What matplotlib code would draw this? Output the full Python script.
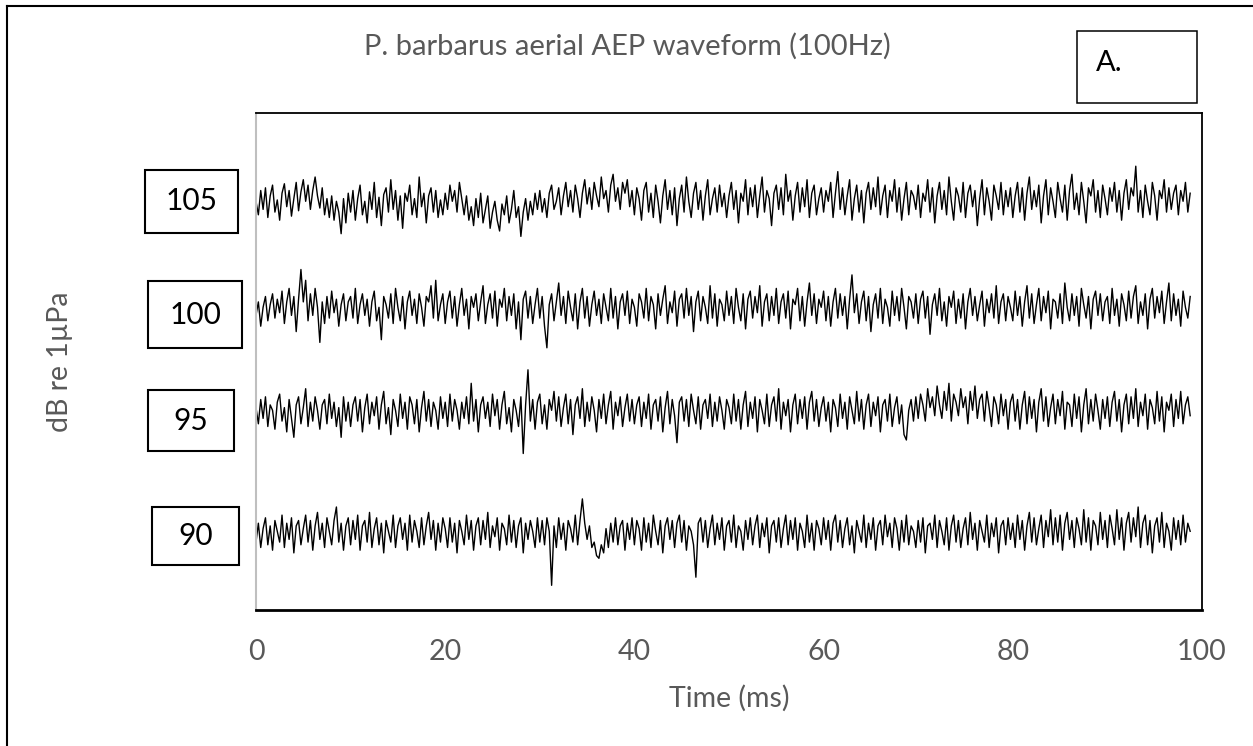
import numpy as np
import matplotlib
matplotlib.use("Agg")
import matplotlib.pyplot as plt
from matplotlib.patches import Rectangle
from matplotlib.lines import Line2D

# AEP traces, one sample every 0.25 ms (amplitude in arbitrary units)
step_ms = 0.25
levels = ["105", "100", "95", "90"]

t105 = [
    2, -8, 10, -4, 12, -10, 6, 14, -6, 3, -12, 8, 15, -2, 10, -9, 4, 16, -5, 9, 18, 2, 14, -4, 10, 20, 6, -3, 12, -8, 4, -10, 6, -12, 2, -6, -22, 4, -14, 8,
    -6, 10, -12, 4, 14, -8, 2, -14, 9, -4, 16, -10, 5, -16, 7, 12, -6, 18, -4, 10, -12, 6, -18, 8, 2, 14, -8, 4, -10, 20, -2, 8, -14, 6, 12, -6, 10, -10, 3, -8,
    8, -4, 14, 2, 10, -6, 16, 4, -8, 6, -12, -2, -16, 4, -10, 8, -14, -4, 6, -18, -6, 2, -12, -20, 0, -8, 6, -14, -4, 10, -10, -2, -24, -6, 4, -12, 2, -8, 8, -4,
    10, -6, 4, -10, 8, 14, -4, 2, 12, -8, 6, 16, -2, 10, -6, 14, 4, -10, 8, 18, 0, 12, -4, 16, 6, -2, 20, 4, 10, -6, 14, 22, 2, 12, -4, 16, 8, 18, -2, 10,
    -8, 12, 4, -12, 10, 16, -6, 8, -10, 14, 2, -14, 6, 18, -4, 10, -8, 12, -16, 4, 14, -6, 20, 2, -10, 8, 16, -4, 10, -12, 6, 18, -8, 4, 12, -6, 14, -2, 8, -10,
    6, 16, -4, 10, -14, 8, 2, 18, -8, 12, -2, 14, -10, 6, 20, -6, 10, 4, -16, 8, 14, -4, 12, -8, 22, 2, 10, -12, 6, 16, -6, 12, -2, 18, -10, 8, 14, -8, 4, 12,
    -6, 10, 2, 16, -10, 8, 24, -4, 12, -8, 6, 18, -12, 4, 14, -6, 10, -14, 8, 16, -4, 12, -2, 20, -8, 6, 14, -10, 10, 2, 18, -6, 12, -12, 4, 16, -8, 10, 6, -4,
    14, -10, 8, 2, 18, -6, 12, -14, 6, 16, -4, 10, -8, 20, 2, -12, 12, 6, -6, 16, -10, 8, 14, -2, 10, -16, 4, 18, -8, 12, 2, -12, 14, 6, -4, 16, -8, 10, -2, 12,
    -10, 6, 16, -6, 12, -12, 8, 20, -4, 10, -2, 14, -14, 6, 18, -8, 12, 2, -10, 16, 4, -6, 14, -12, 10, 22, -4, 8, -8, 16, 2, -14, 12, 6, 18, -6, 10, -10, 14, 4,
    -8, 12, 2, 16, -6, 10, -12, 8, 18, -4, 12, 6, 28, -6, 10, -10, 14, 2, -8, 16, 6, -12, 10, 4, 18, -6, 12, -4, 8, 14, -8, 10, 2, 16, -6, 8,
]

t100 = [
    -4, 6, -12, 2, 10, -8, 4, 12, -6, 8, -2, 14, -10, 6, 16, -4, 10, -16, 8, 30, 6, 22, -8, 12, -4, 16, 2, -24, 6, -10, 10, -6, 14, -2, 8, -12, 4, 12, -8, 6,
    10, -6, 16, -10, 4, 12, -4, 8, -12, 6, 14, -8, 2, -22, 10, 4, -6, 12, -10, 16, 2, -8, 10, -14, 6, 14, -4, 8, -10, 12, 2, -12, 10, 6, 18, -6, 22, -8, 4, 12,
    -10, 6, 14, -6, 10, -12, 4, 16, -4, 8, -14, 10, 2, 12, -8, 6, 18, -10, 4, 12, -6, 14, -12, 8, 2, 16, -8, 10, -4, 12, -14, 6, -22, 8, 14, -6, 10, -10, 4, 16,
    -6, 10, -12, -28, 4, 12, -8, 6, 20, -4, 10, -10, 14, 2, -8, 12, -14, 6, 16, -6, 10, -12, 4, 14, -4, 8, -10, 12, 2, -8, 16, -6, 10, -14, 6, 12, -4, 14, -10, 8,
    2, -12, 12, 6, -6, 16, -8, 10, 4, -14, 12, -4, 8, 18, -10, 6, -2, 14, -12, 8, 12, -6, 16, -4, 10, -16, 6, 14, -8, 10, 2, -10, 18, -6, 12, -12, 8, 4, -8, 14,
    -4, 10, -10, 16, 2, -8, 12, -14, 8, 14, -6, 10, -2, 18, -12, 6, 12, -8, 10, -4, 16, -10, 6, 12, -6, 14, -14, 8, 4, 16, -8, 10, -12, 6, 20, -4, 12, -10, 8, 2,
    14, -8, 10, -12, 6, 16, -6, 12, -4, 10, -14, 8, 26, -2, 12, -10, 6, 14, -8, 10, -16, 4, 12, -6, 16, -10, 8, 2, -12, 14, -4, 10, -8, 16, 2, -14, 10, 6, -6, 12,
    -10, 8, 14, -6, 10, -18, 4, 12, -4, 16, -8, 6, -12, 10, 2, 14, -10, 8, -6, 12, -14, 6, 16, -4, 10, -8, 4, 14, -12, 8, -2, 12, -6, 18, -10, 6, 12, -8, 10, 2,
    -8, 14, -4, 10, -12, 6, 18, -6, 12, -10, 4, 16, -8, 10, -2, 14, -14, 8, 6, -6, 12, -10, 20, 2, -8, 12, -4, 10, -12, 16, 4, -6, 10, -14, 8, 14, -4, 12, -8, 6,
    10, -10, 16, -4, 8, -12, 12, 4, -8, 14, -6, 10, 18, -10, 6, -4, 12, -14, 8, 16, -6, 10, -2, 14, -10, 6, 20, -8, 12, -4, 8, -12, 14, 2, -6, 10,
]

t95 = [
    4, -8, 10, -4, 12, -10, 6, 2, -12, 8, 14, -6, 4, -14, 10, -4, -18, 6, 12, -8, 4, 18, -10, 8, -6, 12, 2, -12, 6, 10, -8, 14, -4, 8, -10, 4, -18, 12, -6, 8,
    -10, 6, 12, -6, 10, -14, 4, 14, -8, 8, -2, 12, -12, 6, 16, -8, 4, -16, 10, 2, -10, 14, -4, 8, -12, 12, 6, -8, 10, -14, 4, 16, -6, 10, -10, 8, 2, -12, 12, -4,
    8, -10, 14, -6, 10, 2, -12, 8, -4, 12, -8, 22, -6, 10, -14, 6, 12, -4, 8, -10, 14, -2, 10, -12, 6, 16, -8, 4, -14, 10, 2, -10, 12, -30, 6, 32, -6, 10, -12, 8,
    14, -8, 6, -12, 10, 2, 16, -6, 12, -10, 4, 14, -8, 10, -16, 6, 12, -4, 18, -10, 8, -6, 12, 2, -14, 10, -4, 14, -8, 6, 16, -12, 8, -2, 12, -10, 4, 14, -6, 10,
    -8, 6, 12, -10, 8, -4, 14, -12, 6, 10, -6, 12, -14, 4, 16, -8, 10, -2, -22, 8, 12, -6, 10, -10, 14, 2, -8, 12, -12, 6, 10, -4, 14, -10, 8, -6, 12, 2, -12, 10,
    4, -8, 14, -6, 10, -12, 6, 16, -10, 8, -4, 12, -14, 10, 2, -8, 14, -10, 6, 12, -6, 18, -12, 8, -2, 10, -14, 6, 14, -8, 10, -4, 12, -12, 8, 16, -6, 10, -10, 4,
    12, -6, 8, -14, 10, 4, -10, 14, -4, 8, -12, 12, 2, -8, 16, -6, 10, -12, 6, 14, -10, 8, -2, 12, -14, 6, 10, -6, 14, -10, 4, 12, -8, 6, -16, -20, 2, 10, -6, 12,
    -4, 14, 6, -6, 18, 4, 12, -2, 20, 6, -4, 16, 2, 22, -6, 14, 8, -2, 18, 4, 12, -8, 16, 2, 20, -4, 10, 14, -6, 16, 4, -10, 12, 6, -8, 14, -2, 10, -12, 8,
    14, -6, 10, -12, 6, 16, -8, 12, -4, 10, -14, 8, 18, -6, 12, -10, 4, 14, -8, 10, -2, 16, -12, 8, 6, -10, 14, -4, 12, -14, 6, 18, -8, 10, -6, 14, 2, -12, 10, -4,
    12, -10, 8, 16, -6, 10, -14, 6, 14, -8, 12, -4, 18, -10, 8, -2, 14, -12, 10, 4, -8, 16, -6, 12, -14, 8, 2, 14, -10, 10, -4, 16, -8, 6, 12, -2,
]

t90 = [
    -6, 8, -10, 4, 12, -8, 6, -12, 10, 2, -6, 14, -10, 8, -4, 12, -14, 6, 10, -8, 4, 14, -6, 10, -12, 6, 16, -4, 8, -10, 12, 2, -8, 10, 20, -6, 8, -12, 6, 12,
    -8, 10, -4, 14, -12, 6, 10, -6, 16, -10, 4, 12, -8, 8, -14, 10, 2, -6, 14, -10, 6, 12, -4, 8, -12, 14, -6, 10, 2, -10, 12, -8, 6, 16, -4, 10, -12, 8, -6, 12,
    4, -10, 12, -6, 8, -14, 10, 2, -8, 14, -4, 10, -12, 6, 12, -8, 10, -4, 16, -10, 6, -2, 12, -12, 8, 4, -8, 14, -6, 10, -10, 6, 12, -14, 8, -4, 10, 2, -10, 12,
    -6, 10, -8, 12, 2, -38, 6, -10, 12, -4, 8, -12, 10, 4, -6, 14, -8, 10, 26, 8, -4, 6, -10, -6, -16, -18, -8, -14, 4, -10, 8, -6, 12, -8, 6, 10, -12, 8, -4, 12,
    -8, 10, 4, -12, 12, -6, 8, -10, 14, 2, -8, 10, -14, 6, 12, -4, 10, -10, 8, 14, -6, 10, -12, 6, 2, -8, -32, 8, 12, -6, 10, -10, 4, 14, -8, 8, -4, 12, -12, 6,
    10, -6, 14, -10, 6, 2, -12, 10, -4, 12, -8, 6, 14, -10, 8, -2, 12, -14, 6, 10, -6, 12, -10, 4, 14, -8, 10, -4, 12, -12, 8, 2, -10, 14, -6, 8, -12, 10, 4, -8,
    12, -4, 10, -12, 8, 14, -6, 10, -10, 4, 12, -8, 6, -14, 10, 2, -6, 14, -10, 8, -4, 12, -12, 6, 10, -8, 14, -2, 8, -10, 12, 4, -12, 10, -6, 14, -8, 6, 2, -10,
    10, -6, 12, -14, 6, 8, -4, 14, -10, 10, 2, -8, 12, -12, 6, 14, -6, 10, -10, 4, 12, -8, 16, -4, 8, -12, 10, 2, -6, 14, -10, 8, -2, 12, -14, 6, 10, -8, 12, -4,
    8, -10, 14, -4, 10, -12, 6, 16, -6, 12, -8, 4, 14, -10, 10, -2, 18, -8, 12, -6, 14, -12, 8, 16, -4, 10, -10, 12, 4, -8, 18, -6, 12, -12, 10, 6, -8, 16, -4, 10,
    -10, 14, 4, -8, 18, -4, 12, -12, 8, 16, -6, 12, -2, 20, -10, 8, 14, -8, 10, -14, 6, 12, -6, 16, -10, 8, 2, -12, 12, -4, 10, -8, 14, -6, 8, 2,
]

traces = [t105, t100, t95, t90]
x_ticks = [0, 20, 40, 60, 80, 100]

W, H = 1253, 746
grey = "#595959"
plt.rcParams["font.family"] = ["Lato", "DejaVu Sans"]

fig = plt.figure(figsize=(W / 100, H / 100), dpi=100)


def fx(px):
    return px / W


def fy(py):
    return 1 - py / H


# plot area in pixels
left, right, top, bottom = 256, 1202, 113, 610
ax = fig.add_axes([fx(left), fy(bottom), fx(right) - fx(left), fy(top) - fy(bottom)])

# vertical centre of each trace (pixels from the top of the image)
centres_px = [204, 310, 413, 534]
gain = 1.35
for vals, c in zip(traces, centres_px):
    v = np.array(vals, dtype=float)
    t = np.arange(len(v)) * step_ms
    ax.plot(t, v * gain + (bottom - c), color="black", lw=1.0)

ax.set_xlim(0, 100)
ax.set_ylim(0, bottom - top)
ax.set_xticks(x_ticks)
ax.set_xticklabels([str(v) for v in x_ticks], color=grey, fontsize=20.5)
ax.tick_params(axis="x", length=0, pad=21)
ax.set_yticks([])
for s in ["top", "right"]:
    ax.spines[s].set_color("black")
    ax.spines[s].set_linewidth(1.3)
ax.spines["bottom"].set_color("black")
ax.spines["bottom"].set_linewidth(2)
ax.spines["left"].set_color("#bfbfbf")
ax.spines["left"].set_linewidth(1.5)

fig.text(fx((left + right) / 2), fy(698), "Time (ms)", color=grey,
         fontsize=20.5, ha="center", va="center")
fig.text(fx(627), fy(46), "P. barbarus aerial AEP waveform (100Hz)",
         color=grey, fontsize=21, ha="center", va="center")
fig.text(fx(60), fy((top + bottom) / 2), "dB re 1µPa", color=grey,
         fontsize=20.5, rotation=90, ha="center", va="center")

# outer frame (top and left edges visible)
fig.add_artist(Line2D([fx(7), 1], [fy(6), fy(6)], color="black", lw=1.5))
fig.add_artist(Line2D([fx(7), fx(7)], [fy(6), 0], color="black", lw=1.5))

# panel letter box
fig.add_artist(Rectangle((fx(1077), fy(103)), fx(1197) - fx(1077), fy(31) - fy(103),
                         fill=False, ec="black", lw=1.1))
fig.text(fx(1096), fy(63), "A.", color="black", fontsize=21,
         ha="left", va="center")

# level boxes: (left, top, right, bottom) in pixels
boxes = [(145, 170, 238, 233), (148, 281, 242, 348),
         (148, 390, 234, 451), (152, 507, 239, 565)]
for lab, (l, tp, r, b) in zip(levels, boxes):
    fig.add_artist(Rectangle((fx(l), fy(b)), fx(r) - fx(l), fy(tp) - fy(b),
                             fill=False, ec="black", lw=1.5))
    fig.text(fx((l + r) / 2), fy((tp + b) / 2), lab, color="black",
             fontsize=21.5, ha="center", va="center")

fig.savefig("out.png", dpi=100)
